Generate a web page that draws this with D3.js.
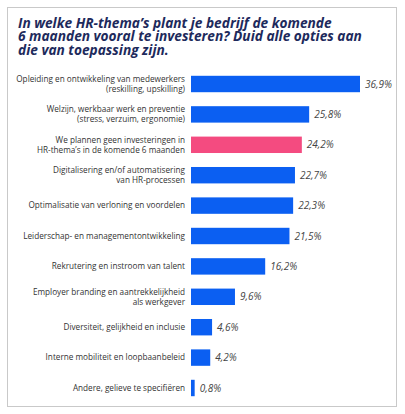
<!DOCTYPE html>
<html>
<head>
<meta charset="utf-8">
<script src="https://cdn.jsdelivr.net/npm/d3@7"></script>
<style>
  html, body { margin: 0; padding: 0; background: #fff; }
  svg { display: block; font-family: "Open Sans", "Noto Sans", sans-serif; }
</style>
</head>
<body>
<div id="chart"></div>
<script>
// Titel en gegevens
const titleLines = [
  'In welke HR-thema\u2019s plant je bedrijf de komende',
  '6 maanden vooral te investeren? Duid alle opties aan',
  'die van toepassing zijn.'
];

const categories = [
  ['Opleiding en ontwikkeling van medewerkers', '(reskilling, upskilling)'],
  ['Welzijn, werkbaar werk en preventie', '(stress, verzuim, ergonomie)'],
  ['We plannen geen investeringen in', 'HR-thema\u2019s in de komende 6 maanden'],
  ['Digitalisering en/of automatisering', 'van HR-processen'],
  ['Optimalisatie van verloning en voordelen'],
  ['Leiderschap- en managementontwikkeling'],
  ['Rekrutering en instroom van talent'],
  ['Employer branding en aantrekkelijkheid', 'als werkgever'],
  ['Diversiteit, gelijkheid en inclusie'],
  ['Interne mobiliteit en loopbaanbeleid'],
  ['Andere, gelieve te specifi\u00EBren']
];

const values = [36.9, 25.8, 24.2, 22.7, 22.3, 21.5, 16.2, 9.6, 4.6, 4.2, 0.8];

// de roze balk is de optie "geen investeringen"
const highlighted = [false, false, true, false, false, false, false, false, false, false, false];

const width = 405;
const height = 414;

const svg = d3.select('#chart')
  .append('svg')
  .attr('width', width)
  .attr('height', height);

// kader
svg.append('rect')
  .attr('x', 7.5)
  .attr('y', 7.5)
  .attr('width', 389)
  .attr('height', 399)
  .attr('fill', '#fff')
  .attr('stroke', '#c9c9c9')
  .attr('stroke-width', 1);

// titel
svg.append('text')
  .attr('x', 18)
  .attr('y', 28)
  .attr('fill', '#1d2a5c')
  .style('font-size', '13.7px')
  .style('font-weight', 'bold')
  .style('font-style', 'italic')
  .selectAll('tspan')
  .data(titleLines)
  .enter()
  .append('tspan')
  .attr('x', 18)
  .attr('dy', (d, i) => (i === 0 ? 0 : 13.4))
  .text(d => d);

const idx = categories.map((d, i) => i);

const y = d3.scaleBand()
  .domain(idx)
  .range([68.8, 403.2])
  .paddingInner(0.46)
  .paddingOuter(0.23);

const x = d3.scaleLinear()
  .domain([0, 36.9])
  .range([191, 360]);

const row = svg.selectAll('.row')
  .data(idx)
  .enter()
  .append('g')
  .attr('class', 'row');

// balken
row.append('rect')
  .attr('x', x(0))
  .attr('y', i => y(i))
  .attr('width', i => x(values[i]) - x(0))
  .attr('height', y.bandwidth())
  .attr('fill', i => (highlighted[i] ? '#f44b80' : '#0b5ff2'));

// categorielabels
row.append('text')
  .attr('text-anchor', 'end')
  .attr('fill', '#333')
  .style('font-size', '8.2px')
  .each(function (i) {
    const lines = categories[i];
    const cy = y(i) + y.bandwidth() / 2;
    d3.select(this).selectAll('tspan')
      .data(lines)
      .enter()
      .append('tspan')
      .attr('x', 185)
      .attr('y', (d, j) => cy + (j - (lines.length - 1) / 2) * 9.8)
      .attr('dy', '0.35em')
      .text(d => d);
  });

// waarden
row.append('text')
  .attr('x', i => x(values[i]) + 5)
  .attr('y', i => y(i) + y.bandwidth() / 2)
  .attr('dy', '0.35em')
  .attr('fill', '#444')
  .style('font-size', '10px')
  .style('font-style', 'italic')
  .text(i => d3.format('.1f')(values[i]).replace('.', ',') + '%');
</script>
</body>
</html>
